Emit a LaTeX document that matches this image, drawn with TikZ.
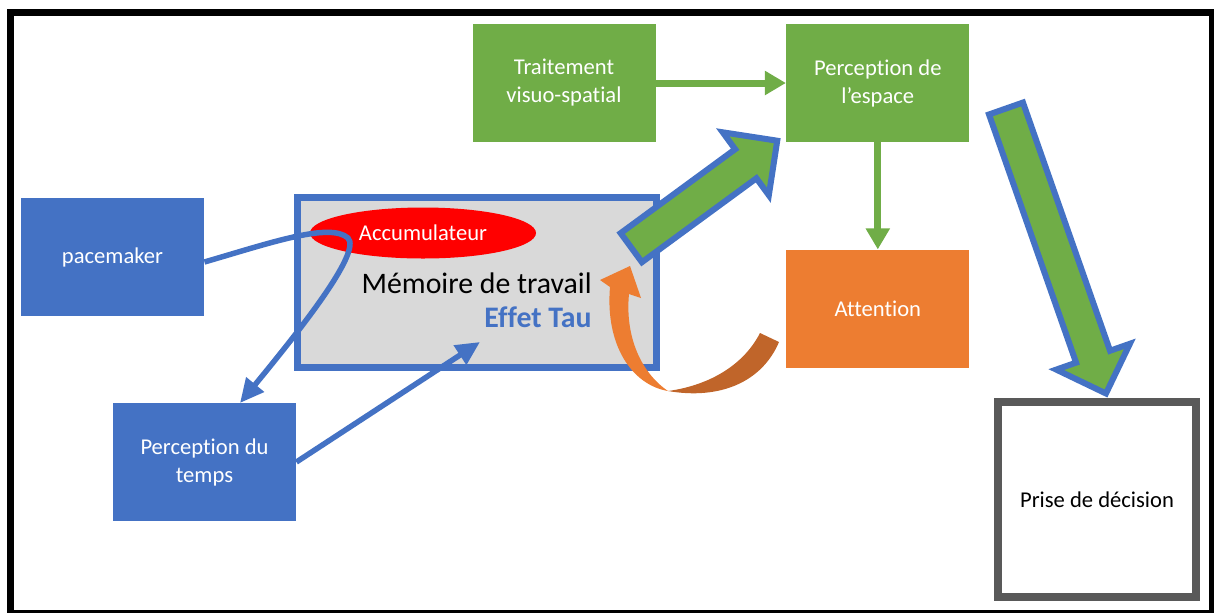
\documentclass[tikz,border=0pt]{standalone}
\usepackage{fontspec}
\setmainfont{Carlito}[Ligatures={TeX,NoCommon}]
\usetikzlibrary{arrows.meta,positioning,calc,shapes.geometric,shapes.arrows}
\definecolor{OffBlue}{HTML}{4472C4}
\definecolor{OffGreen}{HTML}{70AD47}
\definecolor{OffOrange}{HTML}{ED7D31}
\definecolor{OffBrown}{HTML}{C0652A}
\definecolor{OffGrey}{HTML}{D9D9D9}
\definecolor{OffFrame}{HTML}{595959}

\begin{document}
\begin{tikzpicture}[x=0.5pt,y=-0.5pt,node distance=53.5pt and 65pt]
    \tikzset{box/.style={minimum width=91.5pt,minimum height=59pt,inner sep=0pt,
      align=center,text=white,font=\fontsize{11.3}{14}\selectfont},
      bluebox/.style={box,fill=OffBlue},
      greenbox/.style={box,fill=OffGreen},
      orangebox/.style={box,fill=OffOrange},
      greenlink/.style={draw=OffGreen,line width=3.5pt,-{Triangle[length=10.5pt,width=11.5pt]}},
      bluelink/.style={draw=OffBlue,line width=2.75pt,-{Triangle[length=12pt,width=11pt]}},
      bigarrow/.style={single arrow,draw=OffBlue,fill=OffGreen,line width=3pt,inner xsep=0pt,
      inner ysep=7.5pt,single arrow head extend=10.5pt,single arrow tip angle=90,
      single arrow head indent=0pt}}
    \useasboundingbox (0,0) rectangle (1214,612);
    \draw[line width=3.5pt] (10.5,12.5) rectangle (1212.5,613);
    \node[bluebox] (pace) at (112.5,257) {pacemaker};
    \node[bluebox] (temps) at (204.5,462) {Perception du\\temps};
    \node[greenbox] (visuo) at (564,83) {Traitement\\visuo-spatial};
    \node[greenbox,right=of visuo] (espace) {Perception de\\l'espace};
    \node[orangebox,below=of espace] (attention) {Attention};
    \node[draw=OffFrame,line width=4pt,minimum width=99pt,minimum height=97.5pt,
      font=\fontsize{11.3}{14}\selectfont] (decision) at (1097,499.5) {Prise de décision};
    \node[draw=OffBlue,fill=OffGrey,line width=3.5pt,minimum width=179.5pt,
      minimum height=85pt] (memoire) at (476.5,282) {};
    \node[ellipse,fill=red,minimum width=113pt,minimum height=25.5pt,inner sep=0pt,
      text=white,font=\fontsize{11.3}{14}\selectfont] (accu) at (423,233) {Accumulateur};
    \node[anchor=base east,inner sep=0pt,font=\fontsize{14.9}{18}\selectfont]
      (travail) at (592,293) {Mémoire de travail};
    \node[anchor=base east,inner sep=0pt,text=OffBlue,font=\fontsize{14.9}{18}\selectfont\bfseries]
      (tau) at (592,327) {Effet Tau};
    \draw[greenlink] (visuo) -- (espace);
    \draw[greenlink] (espace) -- (attention);
    \coordinate (tempstop) at (240,403);
    \coordinate (tauin) at (480,342);
    \draw[bluelink] ($(pace.east)+(0,5)$) .. controls (270,243) and (330,222) .. (348,238)
      .. controls (362,252) and (300,330) .. (tempstop);
    \draw[bluelink] (temps.east) -- (tauin);
    \coordinate (w1) at (624,253);
    \coordinate (w2) at (770,146);
    \coordinate (e1) at (1003,100);
    \coordinate (e2) at (1103,385);
    \path let \p1=($(w2)-(w1)$),\n1={veclen(\x1,\y1)},\n2={atan2(\y1,\x1)} in
      node[bigarrow,minimum height=\n1,rotate=\n2] (tospace) at ($(w1)!0.5!(w2)$) {};
    \path let \p1=($(e2)-(e1)$),\n1={veclen(\x1,\y1)},\n2={atan2(\y1,\x1)} in
      node[bigarrow,minimum height=\n1,rotate=\n2] (todecision) at ($(e1)!0.5!(e2)$) {};
    \fill[OffBrown] (760,333) -- (779,342) .. controls (762,382) and (720,400) .. (668,391)
      .. controls (705,386) and (742,368) .. (760,333) -- cycle;
    \fill[OffOrange] (668,391) .. controls (632,385) and (605,345) .. (610,287) -- (600,280)
      -- (630,266) -- (641,298) -- (629,294) .. controls (625,335) and (640,372) .. (668,391) -- cycle;
\end{tikzpicture}
\end{document}
